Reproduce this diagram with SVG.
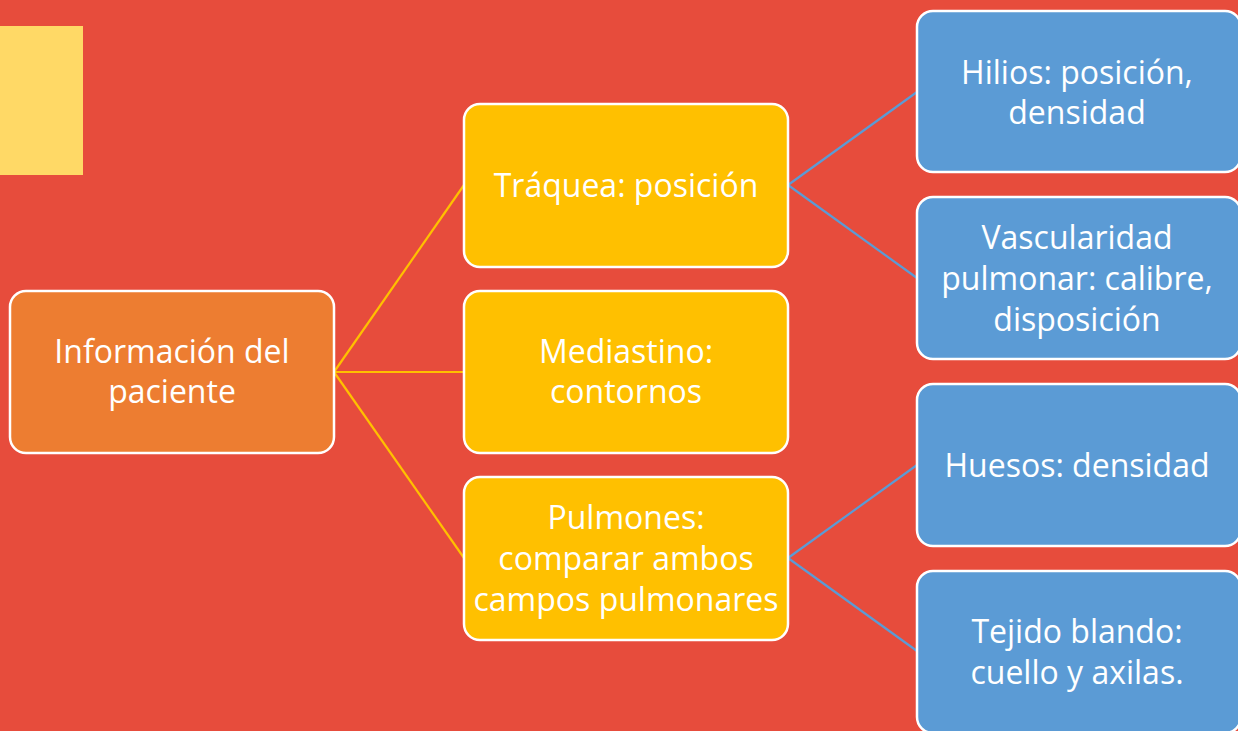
<svg xmlns="http://www.w3.org/2000/svg" width="1238" height="731" viewBox="0 0 1238 731">
<style>
.t{font-family:"Open Sans","Liberation Sans",sans-serif;font-size:32px;fill:#fff;text-anchor:middle}
.box{stroke:#fff;stroke-width:2.5}
.root{fill:#ED7D31}
.mid{fill:#FFC000}
.leaf{fill:#5B9BD5}
.cy{stroke:#FFC000;stroke-width:2.2;fill:none}
.cb{stroke:#5B9BD5;stroke-width:2.2;fill:none}
</style>
<rect x="0" y="0" width="1238" height="731" fill="#E74C3C"/>
<rect x="0" y="26" width="83" height="149" fill="#FFD966"/>
<g id="connectors">
<line class="cy" x1="334" y1="372" x2="464" y2="185"/>
<line class="cy" x1="334" y1="372" x2="464" y2="372"/>
<line class="cy" x1="334" y1="372" x2="464" y2="558"/>
<line class="cb" x1="788" y1="185" x2="917" y2="92"/>
<line class="cb" x1="788" y1="185" x2="917" y2="278"/>
<line class="cb" x1="788" y1="558" x2="917" y2="465"/>
<line class="cb" x1="788" y1="558" x2="917" y2="651"/>
</g>
<g id="n-root">
<rect class="box root" x="10" y="291" width="324" height="162" rx="16"/>
<text class="t" x="172" y="363">Información del</text>
<text class="t" x="172" y="403">paciente</text>
</g>
<g id="n-traquea">
<rect class="box mid" x="464" y="104" width="324" height="163" rx="16"/>
<text class="t" x="626" y="197">Tráquea: posición</text>
</g>
<g id="n-mediastino">
<rect class="box mid" x="464" y="291" width="324" height="162" rx="16"/>
<text class="t" x="626" y="363">Mediastino:</text>
<text class="t" x="626" y="403">contornos</text>
</g>
<g id="n-pulmones">
<rect class="box mid" x="464" y="477" width="324" height="163" rx="16"/>
<text class="t" x="626" y="529">Pulmones:</text>
<text class="t" x="626" y="570">comparar ambos</text>
<text class="t" x="626" y="611">campos pulmonares</text>
</g>
<g id="n-hilios">
<rect class="box leaf" x="917" y="11" width="324" height="161" rx="16"/>
<text class="t" x="1077" y="84">Hilios: posición,</text>
<text class="t" x="1077" y="124">densidad</text>
</g>
<g id="n-vascularidad">
<rect class="box leaf" x="917" y="197" width="324" height="162" rx="16"/>
<text class="t" x="1077" y="249">Vascularidad</text>
<text class="t" x="1077" y="290">pulmonar: calibre,</text>
<text class="t" x="1077" y="331">disposición</text>
</g>
<g id="n-huesos">
<rect class="box leaf" x="917" y="384" width="324" height="162" rx="16"/>
<text class="t" x="1077" y="477">Huesos: densidad</text>
</g>
<g id="n-tejido">
<rect class="box leaf" x="917" y="571" width="324" height="162" rx="16"/>
<text class="t" x="1077" y="643">Tejido blando:</text>
<text class="t" x="1077" y="684">cuello y axilas.</text>
</g>
</svg>
